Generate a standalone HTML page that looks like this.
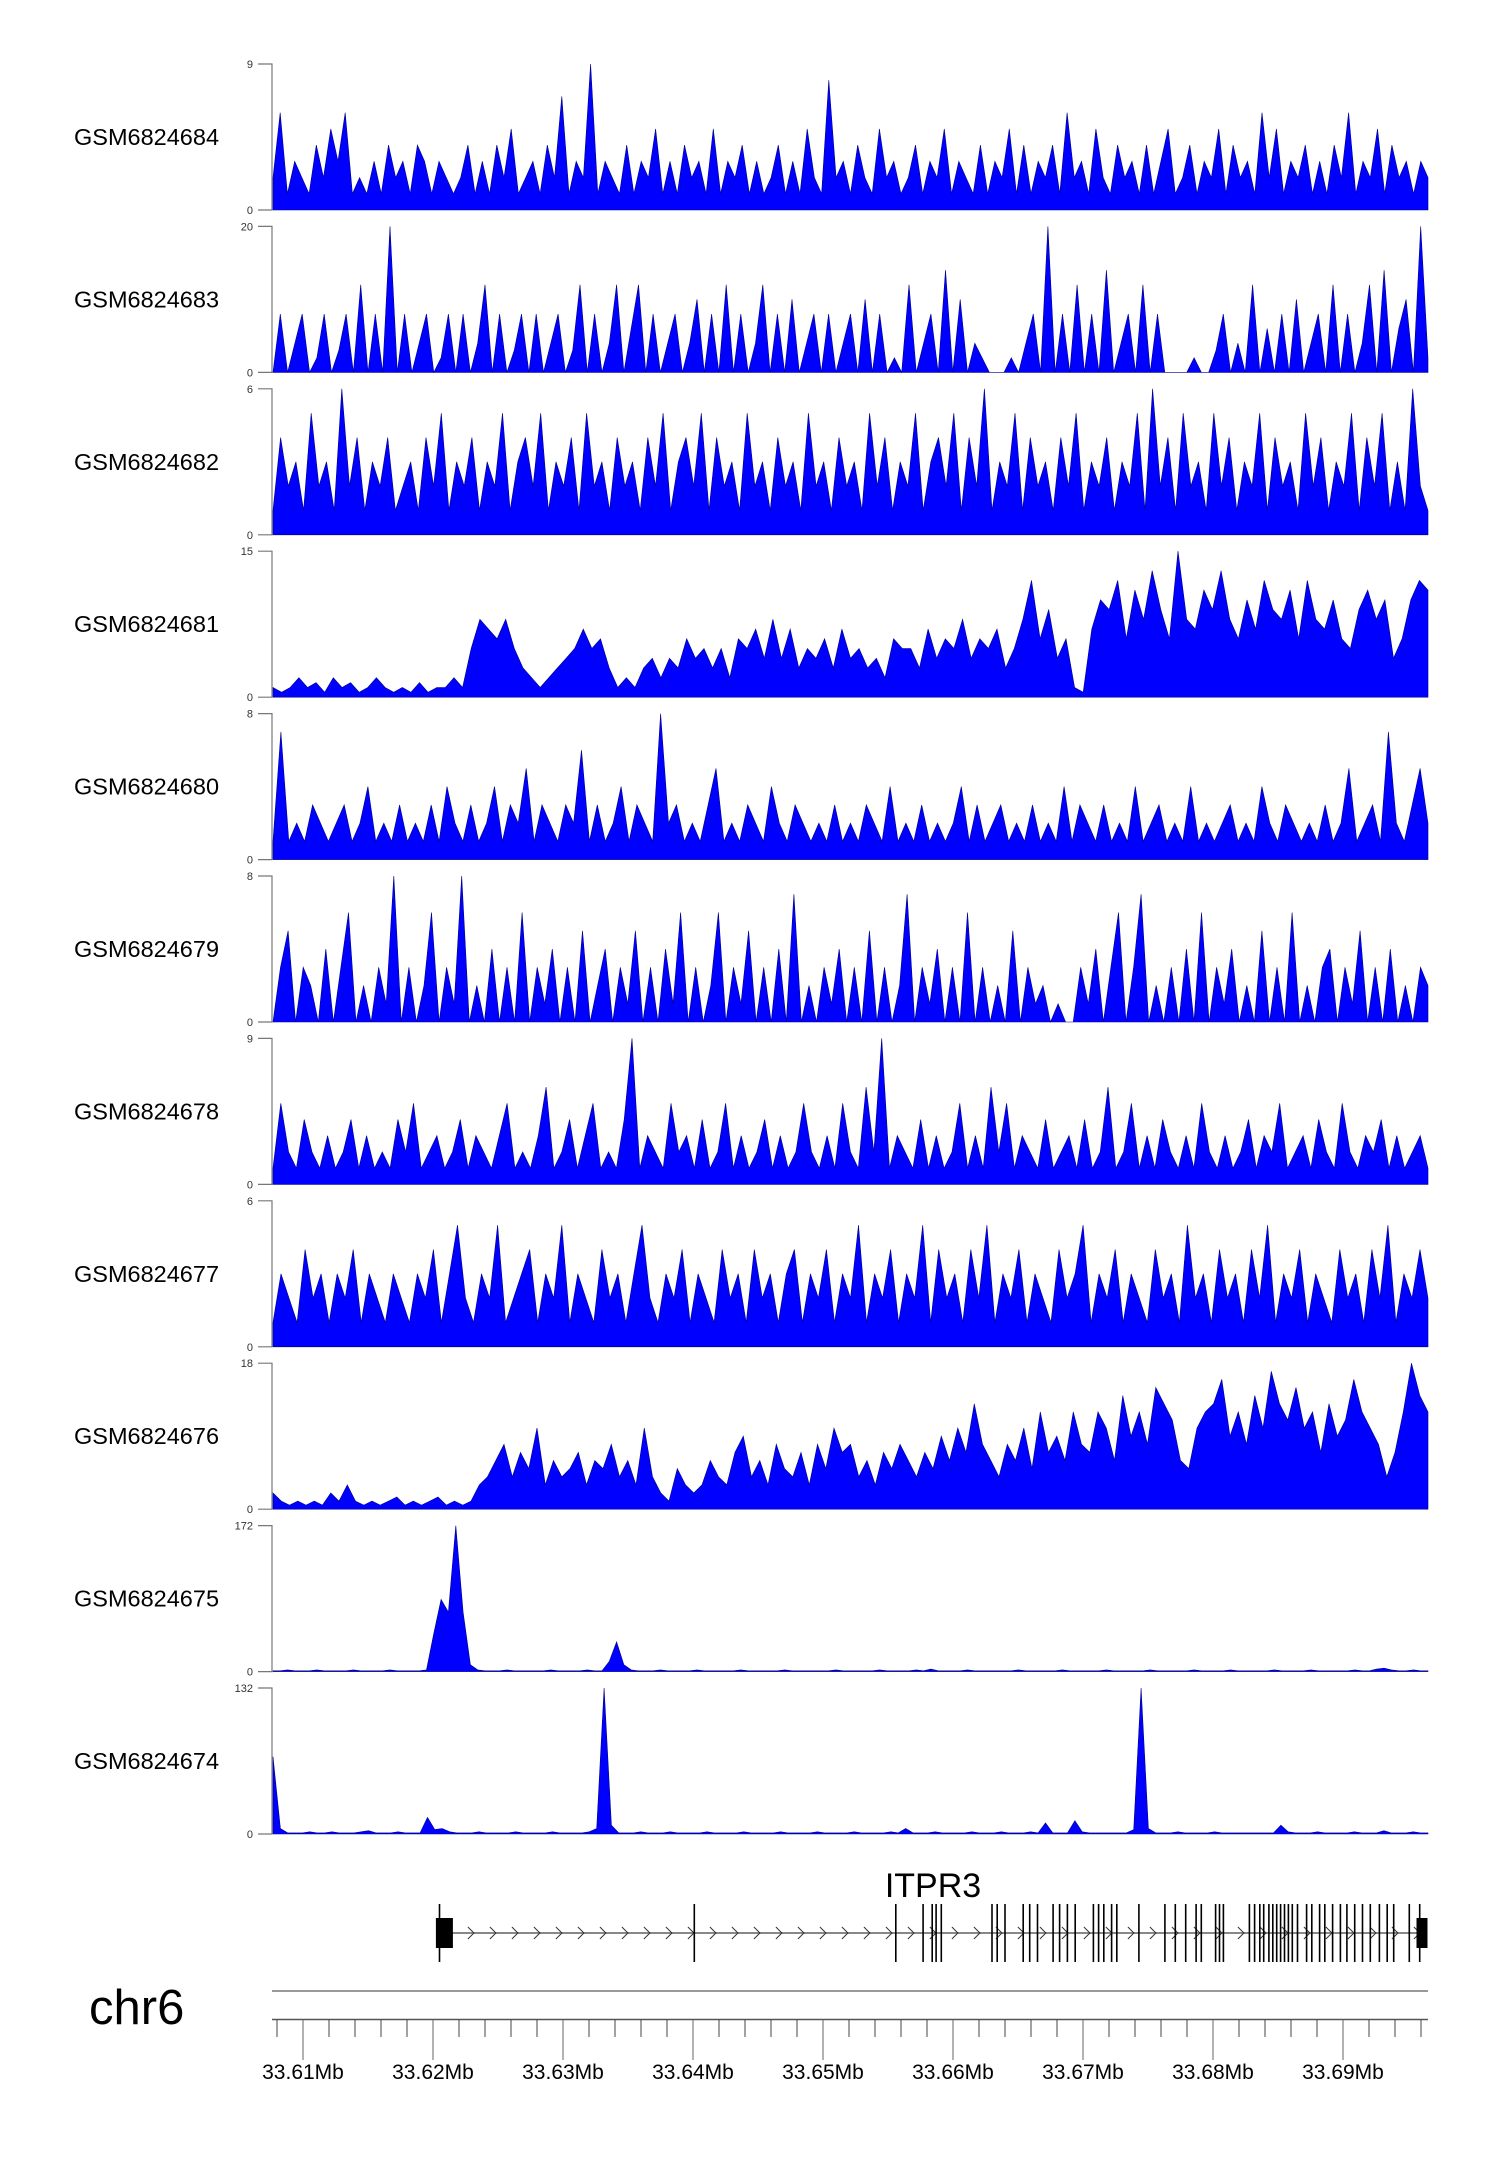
<!DOCTYPE html>
<html><head><meta charset="utf-8"><style>
html,body{margin:0;padding:0;background:#fff;}
svg{display:block;font-family:"Liberation Sans",sans-serif;}
</style></head><body>
<svg id="fig" width="1500" height="2170" viewBox="0 0 1500 2170" xmlns="http://www.w3.org/2000/svg"></svg>
<script>
const sampleNames=["GSM6824684","GSM6824683","GSM6824682","GSM6824681","GSM6824680","GSM6824679","GSM6824678","GSM6824677","GSM6824676","GSM6824675","GSM6824674"];
const yMaxLabels=[9,20,6,15,8,8,9,6,18,172,132];
const s684=[2,6,1,3,2,1,4,2,5,3,6,1,2,1,3,1,4,2,3,1,4,3,1,3,2,1,2,4,1,3,1,4,2,5,1,2,3,1,4,2,7,1,3,2,9,1,3,2,1,4,1,3,2,5,1,3,1,4,2,3,1,5,1,3,2,4,1,3,1,2,4,1,3,1,5,2,1,8,2,3,1,4,2,1,5,2,3,1,2,4,1,3,2,5,1,3,2,1,4,1,3,2,5,1,4,1,3,2,4,1,6,2,3,1,5,2,1,4,2,3,1,4,1,3,5,1,2,4,1,3,2,5,1,4,2,3,1,6,2,5,1,3,2,4,1,3,1,4,2,6,1,3,2,5,1,4,2,3,1,3,2];
const s683=[0,8,0,4,8,0,2,8,0,3,8,0,12,0,8,0,20,0,8,0,4,8,0,2,8,0,8,0,4,12,0,8,0,3,8,0,8,0,4,8,0,3,12,0,8,0,4,12,0,6,12,0,8,0,4,8,0,4,10,0,8,0,12,0,8,0,4,12,0,8,0,10,0,4,8,0,8,0,4,8,0,10,0,8,0,2,0,12,0,4,8,0,14,0,10,0,4,2,0,0,0,2,0,4,8,0,20,0,8,0,12,0,8,0,14,0,4,8,0,12,0,8,0,0,0,0,2,0,0,3,8,0,4,0,12,0,6,0,8,0,10,0,4,8,0,12,0,8,0,4,12,0,14,0,6,10,0,20,2];
const s682=[1,4,2,3,1,5,2,3,1,6,2,4,1,3,2,4,1,2,3,1,4,2,5,1,3,2,4,1,3,2,5,1,3,4,2,5,1,3,2,4,1,5,2,3,1,4,2,3,1,4,2,5,1,3,4,2,5,1,4,2,3,1,5,2,3,1,4,2,3,1,5,2,3,1,4,2,3,1,5,2,4,1,3,2,5,1,3,4,2,5,1,4,2,6,1,3,2,5,1,4,2,3,1,4,2,5,1,3,2,4,1,3,2,5,1,6,2,4,1,5,2,3,1,5,2,4,1,3,2,5,1,4,2,3,1,5,2,4,1,3,2,5,1,4,2,5,1,3,1,6,2,1];
const s681=[1,0.5,1,2,1,1.5,0.5,2,1,1.5,0.5,1,2,1,0.5,1,0.5,1.5,0.5,1,1,2,1,5,8,7,6,8,5,3,2,1,2,3,4,5,7,5,6,3,1,2,1,3,4,2,4,3,6,4,5,3,5,2,6,5,7,4,8,4,7,3,5,4,6,3,7,4,5,3,4,2,6,5,5,3,7,4,6,5,8,4,6,5,7,3,5,8,12,6,9,4,6,1,0.5,7,10,9,12,6,11,8,13,9,6,15,8,7,11,9,13,8,6,10,7,12,9,8,11,6,12,8,7,10,6,5,9,11,8,10,4,6,10,12,11];
const s680=[1,7,1,2,1,3,2,1,2,3,1,2,4,1,2,1,3,1,2,1,3,1,4,2,1,3,1,2,4,1,3,2,5,1,3,2,1,3,2,6,1,3,1,2,4,1,3,2,1,8,2,3,1,2,1,3,5,1,2,1,3,2,1,4,2,1,3,2,1,2,1,3,1,2,1,3,2,1,4,1,2,1,3,1,2,1,2,4,1,3,1,2,3,1,2,1,3,1,2,1,4,1,3,2,1,3,1,2,1,4,1,2,3,1,2,1,4,1,2,1,2,3,1,2,1,4,2,1,3,2,1,2,1,3,1,2,5,1,2,3,1,7,2,1,3,5,2];
const s679=[0,3,5,0,3,2,0,4,0,3,6,0,2,0,3,1,8,0,3,0,2,6,0,3,1,8,0,2,0,4,0,3,0,6,0,3,1,4,0,3,0,5,0,2,4,0,3,1,5,0,3,0,4,1,6,0,3,0,2,6,0,3,1,5,0,3,0,4,0,7,0,2,0,3,1,4,0,3,0,5,0,3,0,2,7,0,3,1,4,0,3,0,6,0,3,0,2,0,5,0,3,1,2,0,1,0,0,3,1,4,0,3,6,0,3,7,0,2,0,3,0,4,0,6,0,3,1,4,0,2,0,5,0,3,0,6,0,2,0,3,4,0,3,1,5,0,3,0,4,0,2,0,3,2];
const s678=[1,5,2,1,4,2,1,3,1,2,4,1,3,1,2,1,4,2,5,1,2,3,1,2,4,1,3,2,1,3,5,1,2,1,3,6,1,2,4,1,3,5,1,2,1,4,9,1,3,2,1,5,2,3,1,4,1,2,5,1,3,1,2,4,1,3,1,2,5,2,1,3,1,5,2,1,6,2,9,1,3,2,1,4,1,3,1,2,5,1,3,1,6,2,5,1,3,2,1,4,1,2,3,1,4,1,2,6,1,2,5,1,3,1,4,2,1,3,1,5,2,1,3,1,2,4,1,3,2,5,1,2,3,1,4,2,1,5,2,1,3,2,4,1,3,1,2,3,1];
const s677=[1,3,2,1,4,2,3,1,3,2,4,1,3,2,1,3,2,1,3,2,4,1,3,5,2,1,3,2,5,1,2,3,4,1,3,2,5,1,3,2,1,4,2,3,1,3,5,2,1,3,2,4,1,3,2,1,4,2,3,1,4,2,3,1,3,4,1,3,2,4,1,3,2,5,1,3,2,4,1,3,2,5,1,4,2,3,1,4,2,5,1,3,2,4,1,3,2,1,4,2,3,5,1,3,2,4,1,3,2,1,4,2,3,1,5,2,3,1,4,2,3,1,4,2,5,1,3,2,4,1,3,2,1,4,2,3,1,4,2,5,1,3,2,4,2];
const s676=[2,1,0.5,1,0.5,1,0.5,2,1,3,1,0.5,1,0.5,1,1.5,0.5,1,0.5,1,1.5,0.5,1,0.5,1,3,4,6,8,4,7,5,10,3,6,4,5,7,3,6,5,8,4,6,3,10,4,2,1,5,3,2,3,6,4,3,7,9,4,6,3,8,5,4,7,3,8,5,10,7,8,4,6,3,7,5,8,6,4,7,5,9,6,10,7,13,8,6,4,8,6,10,5,12,7,9,6,12,8,7,12,10,6,14,9,12,8,15,13,11,6,5,10,12,13,16,9,12,8,14,10,17,13,11,15,10,12,7,13,9,11,16,12,10,8,4,7,12,18,14,12];
const s675=[1,1,2,1,1,1,2,1,1,1,1,2,1,1,1,1,2,1,1,1,1,2,45,85,70,172,70,8,2,1,1,1,2,1,1,1,1,1,2,1,1,1,1,2,1,1,12,35,8,2,1,1,1,2,1,1,1,1,2,1,1,1,1,1,2,1,1,1,1,1,2,1,1,1,1,1,1,2,1,1,1,1,1,2,1,1,1,1,2,1,3,1,1,1,1,2,1,1,1,1,1,1,2,1,1,1,1,1,2,1,1,1,1,1,2,1,1,1,1,1,2,1,1,1,1,1,2,1,1,1,1,2,1,1,1,1,1,2,1,1,1,1,2,1,1,1,1,1,2,1,1,3,4,2,1,1,2,1,1];
const s674=[70,5,1,1,1,2,1,1,2,1,1,1,2,3,1,1,1,2,1,1,1,15,4,5,2,1,1,1,2,1,1,1,1,2,1,1,1,1,2,1,1,1,1,2,5,132,8,1,1,1,2,1,1,1,2,1,1,1,1,2,1,1,1,1,2,1,1,1,1,2,1,1,1,1,2,1,1,1,1,2,1,1,1,1,2,1,5,1,1,1,2,1,1,1,1,2,1,1,1,2,1,1,1,2,1,10,1,1,1,12,2,1,1,1,1,1,1,4,132,5,1,1,1,2,1,1,1,1,2,1,1,1,1,1,1,1,1,8,2,1,1,1,2,1,1,1,1,2,1,1,1,3,1,1,1,2,1,1];
const seriesValues=[s684,s683,s682,s681,s680,s679,s678,s677,s676,s675,s674];
const tickLabelsMb=["33.61Mb","33.62Mb","33.63Mb","33.64Mb","33.65Mb","33.66Mb","33.67Mb","33.68Mb","33.69Mb"];
const majorTicksMb=[33.61,33.62,33.63,33.64,33.65,33.66,33.67,33.68,33.69];
const geneName="ITPR3";
const geneStartMb=33.6203, geneEndMb=33.6965;
const exonMb=[33.6205,33.6401,33.6556,33.6577,33.6584,33.6587,33.6591,33.6630,33.6634,33.6640,33.6654,33.6659,33.6665,33.6677,33.6682,33.6688,33.6694,33.6708,33.6712,33.6716,33.6722,33.6726,33.6743,33.6763,33.6771,33.6779,33.6787,33.6791,33.6802,33.6805,33.6808,33.6828,33.6832,33.6836,33.6839,33.6843,33.6846,33.6849,33.6852,33.6855,33.6858,33.6861,33.6865,33.6872,33.6876,33.6882,33.6886,33.6892,33.6898,33.6903,33.6909,33.6915,33.6921,33.6928,33.6934,33.6939,33.6951,33.6959];

const NS="http://www.w3.org/2000/svg";
const svg=document.getElementById('fig');
function el(tag,attrs,parent){const e=document.createElementNS(NS,tag);for(const k in attrs)e.setAttribute(k,attrs[k]);(parent||svg).appendChild(e);return e;}
const X0=272,X1=1428;
function xMb(mb){return 303+(mb-33.61)*13000;}
const TOP0=64,PITCH=162.4,H=146;

seriesValues.forEach((vals,k)=>{
  const top=TOP0+PITCH*k,bot=top+H,ymax=yMaxLabels[k];
  const g=el('g',{});
  
  
  const lab=el('text',{x:74,y:top+H/2+8,'font-size':23.5,fill:'#000'},g);
  lab.textContent=sampleNames[k];
  
  
  const ax=el('path',{d:`M${X0-14},${top}H${X0}V${bot}H${X0-14}`,stroke:'#777',fill:'none','stroke-width':1.2},g);
  
  
  const t1=el('text',{x:X0-19,y:top+4,'font-size':11,'text-anchor':'end',fill:'#333'},g);t1.textContent=ymax;
  
  
  const t0=el('text',{x:X0-19,y:bot+4,'font-size':11,'text-anchor':'end',fill:'#333'},g);t0.textContent='0';
  
  
  const n=vals.length;
  let d=`M${X0+1},${bot}`;
  vals.forEach((v,i)=>{const x=X0+1+(X1-X0-1)*i/(n-1);const y=bot-Math.min(v,ymax)/ymax*H;d+=`L${x.toFixed(1)},${y.toFixed(1)}`;});
  d+=`L${X1},${bot}Z`;
  const area=el('path',{d:d,fill:'#0000ff',stroke:'#00008b','stroke-width':0.6,'stroke-linejoin':'miter'},g);
  
  
});

// gene track
const gg=el('g',{});


const gl=el('text',{x:933,y:1897,'font-size':34,'text-anchor':'middle',fill:'#000'},gg);gl.textContent=geneName;


const gx0=xMb(geneStartMb),gx1=xMb(geneEndMb);
const intr=el('line',{x1:gx0,x2:gx1,y1:1933,y2:1933,stroke:'#888','stroke-width':2},gg);


for(let x=gx0+12;x<gx1-8;x+=22){
  const c=el('path',{d:`M${x-3},${1927}L${x+3},${1933}L${x-3},${1939}`,stroke:'#333',fill:'none','stroke-width':1},gg);
  
  
}
exonMb.forEach(mb=>{
  const e=el('line',{x1:xMb(mb),x2:xMb(mb),y1:1904,y2:1962,stroke:'#000','stroke-width':1.6},gg);
  
  
});
const b1=el('rect',{x:gx0-1,y:1918,width:17,height:30,fill:'#000'},gg);


const b2=el('rect',{x:gx1-11,y:1918,width:11,height:30,fill:'#000'},gg);



// axis
const ag=el('g',{});


const chr=el('text',{x:89,y:2024,'font-size':49,fill:'#000'},ag);chr.textContent='chr6';


const gline=el('line',{x1:X0,x2:X1,y1:1991,y2:1991,stroke:'#999','stroke-width':2},ag);


const rl=el('line',{x1:X0,x2:X1,y1:2019.5,y2:2019.5,stroke:'#555','stroke-width':1.5},ag);


for(let kb=33608;kb<=33696;kb+=2){
  const x=xMb(kb/1000);
  if(x>X1)break;
  const t=el('line',{x1:x,x2:x,y1:2019.5,y2:2037,stroke:'#444','stroke-width':1},ag);
  
  
}
majorTicksMb.forEach((mb,i)=>{
  const x=xMb(mb);
  const t=el('line',{x1:x,x2:x,y1:2019.5,y2:2060,stroke:'#666','stroke-width':1},ag);
  
  
  const l=el('text',{x:x,y:2079,'font-size':21,'text-anchor':'middle',fill:'#000'},ag);l.textContent=tickLabelsMb[i];
  
  
});
</script>
</body></html>
